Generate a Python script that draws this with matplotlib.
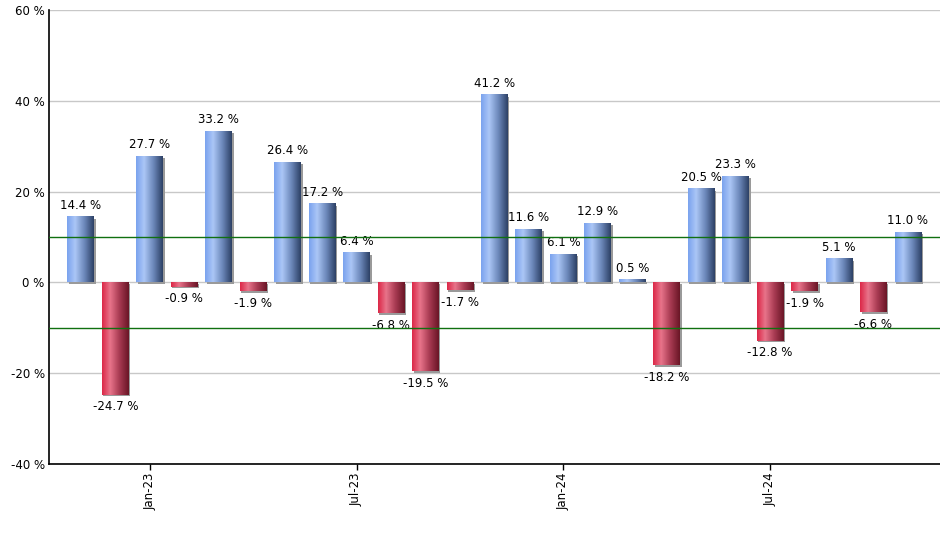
import matplotlib
matplotlib.use("Agg")
import matplotlib.pyplot as plt
from matplotlib.colors import LinearSegmentedColormap
from matplotlib.transforms import offset_copy
import numpy as np

# monthly returns, Nov-22 .. Nov-24
months = ["Nov-22", "Dec-22", "Jan-23", "Feb-23", "Mar-23", "Apr-23", "May-23",
          "Jun-23", "Jul-23", "Aug-23", "Sep-23", "Oct-23", "Nov-23", "Dec-23",
          "Jan-24", "Feb-24", "Mar-24", "Apr-24", "May-24", "Jun-24", "Jul-24",
          "Aug-24", "Sep-24", "Oct-24", "Nov-24"]
returns = [14.4, -24.7, 27.7, -0.9, 33.2, -1.9, 26.4, 17.2, 6.4, -6.8, -19.5, -1.7,
           41.2, 11.6, 6.1, 12.9, 0.5, -18.2, 20.5, 23.3, -12.8, -1.9, 5.1, -6.6, 11.0]
tick_months = ["Jan-23", "Jul-23", "Jan-24", "Jul-24"]
yticks = [-40, -20, 0, 20, 40, 60]
upper_band = 10
lower_band = -10

blue_cmap = LinearSegmentedColormap.from_list(
    "b", [(0, "#7ba3ee"), (0.3, "#abc6f6"), (0.65, "#6c88ba"), (1, "#2d4166")])
red_cmap = LinearSegmentedColormap.from_list(
    "r", [(0, "#dc2848"), (0.3, "#e8748a"), (0.65, "#a83a52"), (1, "#6a1626")])

fig = plt.figure(figsize=(9.4, 5.5), dpi=100)
ax = fig.add_axes([0.052, 0.156, 0.948, 0.826])

x = np.arange(len(months))
bars = ax.bar(x, returns, width=0.78, color="none", edgecolor="none", zorder=3)

grad = np.linspace(0, 1, 64).reshape(1, -1)
for b, v in zip(bars, returns):
    x0, y0 = b.get_x(), b.get_y()
    w, h = b.get_width(), b.get_height()
    # thin drop shadow, offset 1.5 px right / down
    shadow_tr = offset_copy(ax.transData, fig=fig, x=1.5, y=-1.5, units="dots")
    ax.add_patch(plt.Rectangle((x0, y0), w, h, facecolor="#9a9a9a", edgecolor="none",
                               zorder=2, transform=shadow_tr))
    cmap = blue_cmap if v >= 0 else red_cmap
    ax.imshow(grad, cmap=cmap, extent=[x0, x0 + w, y0, y0 + h], aspect="auto",
              zorder=3, interpolation="bilinear")
    if v >= 0:
        ax.annotate(f"{v:.1f} %", (x0 + w / 2, v), xytext=(0, 4), textcoords="offset points",
                    ha="center", va="bottom", fontsize=8.5)
    else:
        ax.annotate(f"{v:.1f} %", (x0 + w / 2, v), xytext=(0, -4), textcoords="offset points",
                    ha="center", va="top", fontsize=8.5)

for yv in yticks:
    ax.axhline(yv, color="#c8c8c8", lw=1, zorder=1)
ax.axhline(upper_band, color="#107010", lw=1, zorder=4)
ax.axhline(lower_band, color="#107010", lw=1, zorder=4)

ax.set_xlim(-0.93, len(months) - 1 + 0.93)
ax.set_ylim(-40, 60)
ax.set_yticks(yticks)
ax.set_yticklabels([f"{t} %" for t in yticks], fontsize=8.5)
ax.tick_params(axis="y", length=0, pad=3)
ax.set_xticks([months.index(m) for m in tick_months])
ax.set_xticklabels(tick_months, rotation=90, fontsize=8.5)
ax.tick_params(axis="x", length=4, width=1, pad=2)

ax.spines["top"].set_visible(False)
ax.spines["right"].set_visible(False)
ax.spines["left"].set_linewidth(1.2)
ax.spines["bottom"].set_linewidth(1.2)

fig.savefig("out.png", dpi=100)
